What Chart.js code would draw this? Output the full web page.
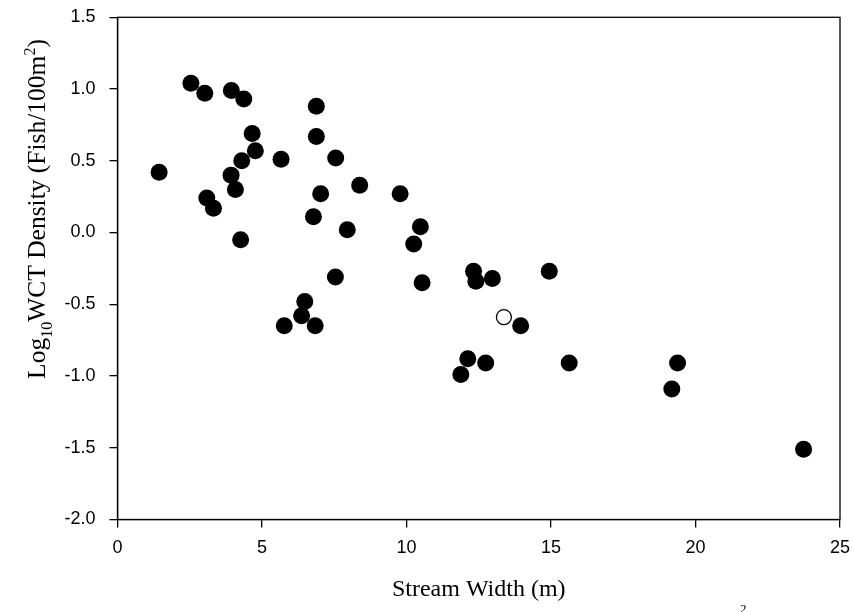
<!DOCTYPE html>
<html>
<head>
<meta charset="utf-8">
<script src="https://cdn.jsdelivr.net/npm/chart.js@4.4.0/dist/chart.umd.min.js"></script>
<style>
    body { margin: 0; background: #fff; }
    #wrap { width: 853px; height: 612px; }
</style>
</head>
<body>
<div id="wrap"><canvas id="wctChart" width="853" height="612"></canvas></div>
<script>
// Stream width (m) and log10 WCT density for the filled points
const widthFilled = [1.44, 2.54, 3.02, 3.94, 4.37, 6.88, 4.66, 6.88, 4.77, 4.30,
    5.66, 7.55, 3.93, 4.08, 3.09, 3.32, 7.03, 8.38, 9.78, 6.78,
    7.95, 10.48, 10.25, 4.26, 7.54, 10.54, 12.32, 12.40, 12.97, 14.94,
    6.48, 6.37, 5.77, 6.84, 13.95, 12.12, 11.88, 12.74, 15.63, 19.38,
    19.18, 23.74];
const densityFilled = [0.42, 1.04, 0.97, 0.99, 0.93, 0.88, 0.69, 0.67, 0.57, 0.50,
    0.51, 0.52, 0.40, 0.30, 0.24, 0.17, 0.27, 0.33, 0.27, 0.11,
    0.02, 0.04, -0.08, -0.05, -0.31, -0.35, -0.27, -0.34, -0.32, -0.27,
    -0.48, -0.58, -0.65, -0.65, -0.65, -0.88, -0.99, -0.91, -0.91, -0.91,
    -1.09, -1.51];

// the single open point
const widthOpen = [13.37];
const densityOpen = [-0.59];

const xTicks = [0, 5, 10, 15, 20, 25];
const yTicks = [-2.0, -1.5, -1.0, -0.5, 0.0, 0.5, 1.0, 1.5];

function toPoints(xs, ys) {
    return xs.map((x, i) => ({ x: x, y: ys[i] }));
}

// frame + axis titles (the y title needs sub/superscripts)
const framePlugin = {
    id: 'frame',
    afterDraw(chart) {
        const ctx = chart.ctx;
        const a = chart.chartArea;
        ctx.save();
        ctx.strokeStyle = '#000';
        ctx.lineWidth = 1.3;
        ctx.strokeRect(a.left, a.top, a.right - a.left, a.bottom - a.top);

        // x title
        ctx.fillStyle = '#000';
        ctx.font = '24px "Liberation Serif", "Times New Roman", serif';
        ctx.textAlign = 'center';
        ctx.textBaseline = 'middle';
        ctx.fillText('Stream Width (m)', (a.left + a.right) / 2, 590);

        // y title, rotated
        const big = 25.5, small = 16;
        const parts = [
            { t: 'Log', size: big, dy: 0 },
            { t: '10', size: small, dy: 7 },
            { t: 'WCT Density (Fish/100m', size: big, dy: 0 },
            { t: '2', size: small, dy: -10 },
            { t: ')', size: big, dy: 0 }
        ];
        let total = 0;
        parts.forEach(p => {
            ctx.font = p.size + 'px "Liberation Serif", "Times New Roman", serif';
            p.w = ctx.measureText(p.t).width;
            total += p.w;
        });
        ctx.translate(37, 209);
        ctx.rotate(-Math.PI / 2);
        ctx.textAlign = 'left';
        ctx.textBaseline = 'alphabetic';
        let x = -total / 2;
        parts.forEach(p => {
            ctx.font = p.size + 'px "Liberation Serif", "Times New Roman", serif';
            ctx.fillText(p.t, x, 8 + p.dy);
            x += p.w;
        });
        ctx.restore();

        // stray superscript left over from the caption below the figure
        ctx.save();
        ctx.fillStyle = '#000';
        ctx.font = '13px "Liberation Serif", "Times New Roman", serif';
        ctx.textAlign = 'left';
        ctx.textBaseline = 'top';
        ctx.fillText('2', 740, 603);
        ctx.restore();
    }
};

const tickFont = { family: '"Liberation Sans", Arial, sans-serif', size: 18 };

const config = {
    type: 'scatter',
    data: {
        datasets: [{
            label: 'filled',
            data: toPoints(widthFilled, densityFilled),
            pointRadius: 8.5,
            pointHoverRadius: 8.5,
            backgroundColor: '#000',
            borderColor: '#000',
            borderWidth: 0
        }, {
            label: 'open',
            data: toPoints(widthOpen, densityOpen),
            pointRadius: 7.5,
            pointHoverRadius: 7.5,
            backgroundColor: '#fff',
            borderColor: '#000',
            borderWidth: 1.3
        }]
    },
    options: {
        responsive: false,
        animation: false,
        devicePixelRatio: 1,
        layout: { padding: { left: 0, top: 17.3, right: 13, bottom: 0 } },
        plugins: {
            legend: { display: false },
            tooltip: { enabled: false }
        },
        scales: {
            x: {
                type: 'linear',
                min: 0,
                max: 25,
                afterBuildTicks: (scale) => { scale.ticks = xTicks.map(v => ({ value: v })); },
                afterFit: (scale) => {
                    scale.height = 92.5;
                    scale.paddingLeft = 0;
                    scale.paddingRight = 0;
                },
                border: { display: true, color: '#000', width: 1.3 },
                grid: { drawOnChartArea: false, drawTicks: true, tickLength: 8, color: '#000', lineWidth: 1.3 },
                ticks: { color: '#000', font: tickFont, padding: 10, maxRotation: 0 }
            },
            y: {
                type: 'linear',
                min: -2,
                max: 1.5,
                afterBuildTicks: (scale) => { scale.ticks = yTicks.map(v => ({ value: v })); },
                afterFit: (scale) => {
                    scale.width = 117.5;
                    scale.paddingTop = 0;
                    scale.paddingBottom = 0;
                },
                border: { display: true, color: '#000', width: 1.3 },
                grid: { drawOnChartArea: false, drawTicks: true, tickLength: 8, color: '#000', lineWidth: 1.3 },
                ticks: {
                    color: '#000',
                    font: tickFont,
                    padding: 14,
                    callback: (v) => Number(v).toFixed(1)
                }
            }
        }
    },
    plugins: [framePlugin]
};

const wctChart = new Chart(document.getElementById('wctChart').getContext('2d'), config);
</script>
</body>
</html>
